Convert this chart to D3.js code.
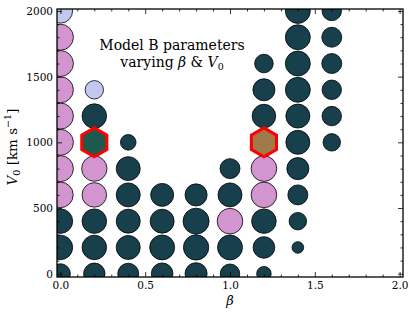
<!DOCTYPE html>
<html>
<head>
<meta charset="utf-8">
<script src="https://cdn.jsdelivr.net/npm/d3@7"></script>
<style>
  body { margin: 0; background: #fff; }
  text { font-family: "DejaVu Serif", serif; fill: #000; }
</style>
</head>
<body>
<div id="chart"></div>
<script>
// model grid: [beta, V0, weight]
var darkModels = [
  [0.0, 0, 59], [0.0, 200, 89], [0.0, 400, 89],
  [0.2, 0, 68], [0.2, 200, 89], [0.2, 400, 89], [0.2, 1200, 89],
  [0.4, 0, 65], [0.4, 200, 85], [0.4, 400, 85], [0.4, 600, 85], [0.4, 800, 85], [0.4, 1000, 36],
  [0.6, 0, 69], [0.6, 200, 92], [0.6, 400, 85], [0.6, 600, 78],
  [0.8, 0, 72], [0.8, 200, 95], [0.8, 400, 100], [0.8, 600, 72],
  [1.0, 0, 56], [1.0, 200, 92], [1.0, 600, 85], [1.0, 800, 59],
  [1.2, 0, 31], [1.2, 200, 69], [1.2, 400, 89], [1.2, 1200, 82], [1.2, 1400, 72], [1.2, 1600, 51],
  [1.4, 200, 20], [1.4, 400, 45], [1.4, 600, 59], [1.4, 800, 72], [1.4, 1000, 85],
  [1.4, 1200, 85], [1.4, 1400, 92], [1.4, 1600, 92], [1.4, 1800, 92], [1.4, 2000, 92],
  [1.6, 1000, 45], [1.6, 1200, 56], [1.6, 1400, 56], [1.6, 1600, 59], [1.6, 1800, 59], [1.6, 2000, 56]
];
var pinkModels = [
  [0.0, 600, 97], [0.0, 800, 100], [0.0, 1000, 100], [0.0, 1200, 100],
  [0.0, 1400, 100], [0.0, 1600, 100], [0.0, 1800, 100],
  [0.2, 600, 89], [0.2, 800, 95],
  [1.0, 400, 97],
  [1.2, 600, 97], [1.2, 800, 97]
];
var paleModels = [[0.0, 2000, 88], [0.2, 1400, 50]];
var bestModels = [[0.2, 1000], [1.2, 1000]];
var bestFills = ['#1d5a4d', '#9f7b4b'];

var xMajor = [0, 0.5, 1.0, 1.5, 2.0];
var yMajor = [0, 500, 1000, 1500, 2000];

var margin = {top: 9, right: 12, bottom: 37, left: 57},
    width = 415 - margin.left - margin.right,
    height = 314 - margin.top - margin.bottom;

var svg = d3.select('#chart')
    .append('svg')
    .attr('width', 415)
    .attr('height', 314)
    .append('g')
    .attr('transform', 'translate(' + margin.left + ',' + margin.top + ')');

var x = d3.scaleLinear().domain([-0.02, 2.02]).range([0, width]);
var y = d3.scaleLinear().domain([-25, 2015]).range([height, 0]);
var r = d3.scaleSqrt().domain([0, 100]).range([0, 13]);

svg.append('clipPath').attr('id', 'plotclip')
    .append('rect').attr('width', width).attr('height', height);

var marks = svg.append('g').attr('clip-path', 'url(#plotclip)');

function circles(data, fill) {
  marks.append('g')
      .selectAll('circle')
      .data(data)
      .enter()
      .append('circle')
      .attr('cx', function(d) { return x(d[0]); })
      .attr('cy', function(d) { return y(d[1]); })
      .attr('r', function(d) { return r(d[2]); })
      .attr('fill', fill)
      .attr('stroke', '#000')
      .attr('stroke-width', 0.8);
}
circles(darkModels, '#17404c');
circles(pinkModels, '#d395cf');
circles(paleModels, '#c4c8f0');

// hexagons, pointy top
function hexPath(d) {
  var cx = x(d[0]), cy = y(d[1]), R = 14.5;
  var pts = d3.range(6).map(function(i) {
    var a = Math.PI / 2 + i * Math.PI / 3;
    return [cx + R * Math.cos(a), cy - R * Math.sin(a)];
  });
  return d3.line()(pts) + 'Z';
}
marks.append('g')
    .selectAll('path')
    .data(bestModels)
    .enter()
    .append('path')
    .attr('d', hexPath)
    .attr('fill', function(d, i) { return bestFills[i]; })
    .attr('stroke', '#ff0000')
    .attr('stroke-width', 3);

// axes, ticks pointing inward on all four sides
var xMinor = d3.range(0, 2.01, 0.1).filter(function(v) { return Math.abs(v * 2 - Math.round(v * 2)) > 1e-6; });
var yMinor = d3.range(0, 2001, 100).filter(function(v) { return v % 500 != 0; });

function addAxis(axis, tx, ty, labels) {
  var g = svg.append('g')
      .attr('transform', 'translate(' + tx + ',' + ty + ')')
      .call(axis);
  g.select('.domain').remove();
  g.selectAll('line').attr('stroke', '#000').attr('stroke-width', 0.8);
  g.selectAll('text').style('font-family', '"DejaVu Serif", serif').style('font-size', '10.5px');
  if (!labels) g.selectAll('text').remove();
  return g;
}
var fmtX = d3.format('.1f');
addAxis(d3.axisBottom(x).tickValues(xMajor).tickSize(-5).tickPadding(5).tickFormat(fmtX), 0, height, true);
addAxis(d3.axisBottom(x).tickValues(xMinor).tickSize(-2.5), 0, height, false);
addAxis(d3.axisTop(x).tickValues(xMajor).tickSize(-5), 0, 0, false);
addAxis(d3.axisTop(x).tickValues(xMinor).tickSize(-2.5), 0, 0, false);
addAxis(d3.axisLeft(y).tickValues(yMajor).tickSize(-5).tickPadding(4).tickFormat(d3.format('d')), 0, 0, true);
addAxis(d3.axisLeft(y).tickValues(yMinor).tickSize(-2.5), 0, 0, false);
addAxis(d3.axisRight(y).tickValues(yMajor).tickSize(-5), width, 0, false);
addAxis(d3.axisRight(y).tickValues(yMinor).tickSize(-2.5), width, 0, false);

svg.append('rect')
    .attr('width', width)
    .attr('height', height)
    .attr('fill', 'none')
    .attr('stroke', '#000')
    .attr('stroke-width', 1.3);

// labels
svg.append('text')
    .attr('x', x(1.0))
    .attr('y', height + 28)
    .attr('text-anchor', 'middle')
    .style('font-size', '13px')
    .style('font-style', 'italic')
    .text('β');

var yl = svg.append('text')
    .attr('transform', 'translate(' + (-40) + ',' + (height / 2 + 4) + ') rotate(-90)')
    .attr('text-anchor', 'middle')
    .style('font-size', '13.5px');
yl.append('tspan').style('font-style', 'italic').text('V');
yl.append('tspan').attr('dy', 3).style('font-size', '9.5px').text('0');
yl.append('tspan').attr('dy', -3).text(' [km s');
yl.append('tspan').attr('dy', -6).style('font-size', '9.5px').text('−1');
yl.append('tspan').attr('dy', 6).text(']');

var note = svg.append('g')
    .attr('transform', 'translate(' + (172 - margin.left) + ',0)');
note.append('text')
    .attr('y', 50 - margin.top)
    .attr('text-anchor', 'middle')
    .style('font-size', '14px')
    .text('Model B parameters');
var l2 = note.append('text')
    .attr('y', 67 - margin.top)
    .attr('text-anchor', 'middle')
    .style('font-size', '14px');
l2.append('tspan').text('varying ');
l2.append('tspan').style('font-style', 'italic').text('β');
l2.append('tspan').text(' & ');
l2.append('tspan').style('font-style', 'italic').text('V');
l2.append('tspan').attr('dy', 3).style('font-size', '9.5px').text('0');
</script>
</body>
</html>
